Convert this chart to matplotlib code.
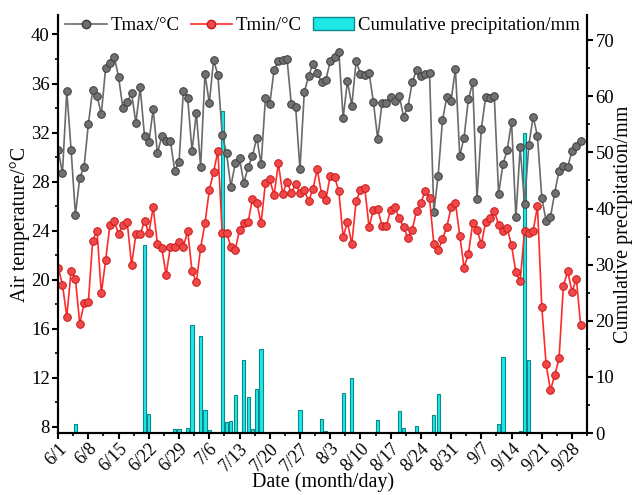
import numpy as np
import pandas as pd
import matplotlib
matplotlib.use('Agg')
import matplotlib.pyplot as plt
from matplotlib.lines import Line2D
from matplotlib.patches import Patch
from matplotlib.ticker import MultipleLocator

plt.rcParams['font.family'] = ['Liberation Serif', 'DejaVu Serif']

# daily values, 6/1 - 9/30
dates = pd.date_range('2020-06-01', '2020-09-30', freq='D')

tmax = [30.6, 28.7, 35.4, 30.6, 25.3, 28.3, 29.2, 32.7, 35.5, 35.0,
        33.5, 37.3, 37.7, 38.2, 36.5, 34.0, 34.5, 35.2, 32.8, 35.7,
        31.7, 31.2, 33.9, 30.3, 31.7, 31.3, 31.3, 28.9, 29.6, 35.4,
        34.8, 30.5, 33.6, 29.2, 36.8, 34.4, 37.9, 36.7, 31.8, 30.3,
        27.6, 29.5, 29.9, 27.9, 29.2, 30.1, 31.6, 29.4, 34.8, 34.3,
        37.1, 37.8, 37.9, 38.0, 34.3, 34.1, 29.0, 35.3, 36.6, 37.6,
        36.9, 36.1, 36.3, 37.8, 38.2, 38.6, 33.2, 36.2, 34.2, 37.8,
        36.8, 36.7, 36.9, 34.5, 31.5, 34.4, 34.4, 34.9, 34.6, 35.0,
        33.3, 34.1, 36.1, 37.1, 36.6, 36.8, 36.9, 25.5, 28.5, 33.0,
        34.9, 34.6, 37.2, 30.1, 31.6, 34.7, 36.1, 26.6, 32.3, 34.9,
        34.8, 35.0, 27.0, 29.4, 30.6, 32.9, 25.1, 30.8, 26.2, 31.0,
        33.3, 31.7, 26.7, 24.8, 25.1, 27.1, 28.9, 29.3, 29.2, 30.5,
        30.9, 31.3]

tmin = [21.0, 19.6, 17.0, 20.7, 20.1, 16.4, 18.1, 18.2, 23.2, 24.0,
        18.9, 21.6, 24.5, 24.8, 23.7, 24.5, 24.7, 21.2, 23.7, 23.7,
        24.8, 23.8, 25.9, 22.9, 22.6, 20.4, 22.7, 22.7, 23.1, 22.7,
        24.0, 20.7, 19.8, 22.6, 24.6, 27.3, 28.8, 30.5, 23.8, 23.8,
        22.7, 22.4, 24.1, 24.6, 24.7, 26.6, 26.3, 24.6, 27.9, 28.2,
        26.9, 29.5, 27.0, 28.0, 27.1, 27.8, 27.1, 27.3, 26.4, 27.4,
        29.0, 27.0, 26.5, 28.5, 28.4, 27.2, 23.5, 24.7, 22.9, 26.4,
        27.3, 27.5, 24.3, 25.7, 25.8, 24.4, 24.4, 25.7, 25.9, 25.0,
        24.3, 23.4, 24.1, 25.6, 26.3, 27.2, 26.7, 22.9, 22.4, 23.3,
        24.3, 25.9, 26.3, 23.6, 21.0, 22.1, 24.6, 24.1, 22.9, 24.7,
        25.0, 25.6, 24.5, 24.0, 24.2, 22.8, 20.6, 19.9, 24.0, 23.8,
        24.0, 26.0, 17.8, 13.1, 11.0, 12.2, 13.6, 19.5, 20.7, 19.0,
        20.1, 16.3]

# rain days and amounts (mm)
rain_dates = ['6/5', '6/21', '6/22', '6/28', '6/29', '7/1', '7/2', '7/4', '7/5',
              '7/6', '7/9', '7/10', '7/11', '7/12', '7/14', '7/15', '7/16',
              '7/17', '7/18', '7/27', '8/1', '8/2', '8/6', '8/8', '8/14',
              '8/19', '8/20', '8/23', '8/27', '8/28', '9/11', '9/12', '9/16',
              '9/17', '9/18']
rain_mm = [1.6, 33.5, 3.4, 0.7, 0.8, 0.9, 19.2, 17.3, 4.2,
           0.5, 57.3, 2.0, 2.1, 6.8, 13.1, 6.4, 0.8,
           7.8, 14.9, 4.2, 2.6, 0.4, 7.1, 9.9, 2.3,
           3.9, 0.9, 1.3, 3.3, 6.9, 1.6, 13.6, 0.3,
           53.5, 13.1]

tick_dates = pd.date_range('2020-06-01', '2020-09-28', freq='7D')
tick_labels = [f'{d.month}/{d.day}' for d in tick_dates]

rain_x = pd.to_datetime(['2020/' + s for s in rain_dates], format='%Y/%m/%d')

fig = plt.figure(figsize=(6.32, 4.95), dpi=100)
ax = fig.add_axes([0.092, 0.125, 0.837, 0.845])
ax2 = ax.twinx()
ax.set_zorder(ax2.get_zorder() + 1)
ax.patch.set_visible(False)

ax2.bar(rain_x, rain_mm, width=0.75, color='#1EE8E8', edgecolor='#0A8A8A',
        linewidth=0.8)

ax.plot(dates, tmax, '-o', color='#6a6a6a', lw=1.2, ms=5.5,
        mfc='#707070', mec='#3c3c3c', mew=0.7)
ax.plot(dates, tmin, '-o', color='#ff2a2a', lw=1.2, ms=5.5,
        mfc='#f04848', mec='#c81818', mew=0.7)

ax.set_xlim(dates[0], dates[-1])
ax.set_ylim(7.5, 41.6)
ax2.set_ylim(0, 74.5)

ax.set_xticks(tick_dates)
ax.set_xticks(tick_dates + pd.Timedelta(hours=84), minor=True)
ax.set_xticklabels(tick_labels, rotation=45, ha='right', rotation_mode='anchor')
ax.yaxis.set_major_locator(MultipleLocator(4))
ax.yaxis.set_minor_locator(MultipleLocator(2))
ax2.yaxis.set_major_locator(MultipleLocator(10))
ax2.yaxis.set_minor_locator(MultipleLocator(5))

for a in (ax, ax2):
    a.spines['top'].set_visible(False)
    for s in ('left', 'right', 'bottom'):
        a.spines[s].set_linewidth(1.5)
    a.tick_params(which='major', direction='out', length=4, width=1.5,
                  labelsize=13.5, pad=2)
    a.tick_params(which='minor', direction='out', length=2.5, width=1.2)
ax.tick_params(axis='x', labelsize=13, pad=1)

ax.set_xlabel('Date (month/day)', fontsize=14.5, labelpad=-2)
ax.set_ylabel('Air temperature/°C', fontsize=14.5, labelpad=1)
ax2.set_ylabel('Cumulative precipitation/mm', fontsize=14.5, labelpad=0)

handles = [
    Line2D([], [], color='#6a6a6a', marker='o', ms=6, mfc='#707070',
           mec='#3c3c3c', lw=1.2),
    Line2D([], [], color='#ff2a2a', marker='o', ms=6, mfc='#f04848',
           mec='#c81818', lw=1.2),
    Patch(facecolor='#1EE8E8', edgecolor='#0A8A8A', linewidth=1),
]
ax.legend(handles, ['Tmax/°C', 'Tmin/°C', 'Cumulative precipitation/mm'],
          loc='upper center', bbox_to_anchor=(0.5, 1.035), ncol=3,
          frameon=False, fontsize=13.5, handlelength=2.2, handletextpad=0.2,
          columnspacing=0.6)

fig.savefig('out.png', dpi=100)
